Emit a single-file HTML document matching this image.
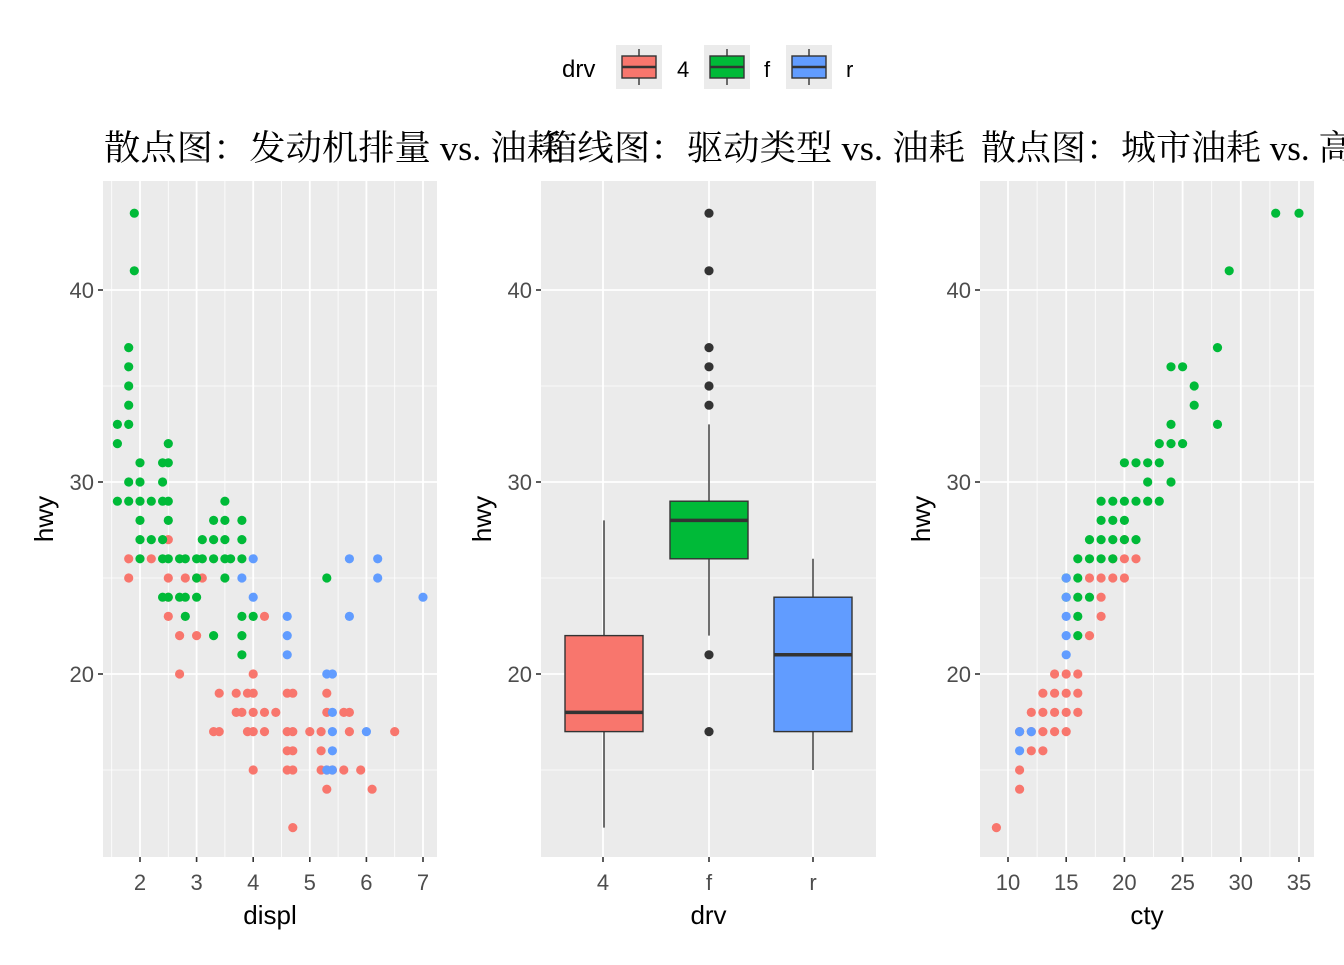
<!DOCTYPE html>
<html><head><meta charset="utf-8"><style>
body{margin:0;background:#fff}
svg text{font-family:"Liberation Sans","Noto Sans CJK SC",sans-serif}
svg text.t{font-family:"Liberation Serif","Noto Serif CJK SC",serif}
</style></head><body>
<svg id="s" width="1344" height="960" xmlns="http://www.w3.org/2000/svg">
<rect width="1344" height="960" fill="#fff"/>
<text x="562" y="77" font-size="24">drv</text>
<rect x="616" y="45" width="46" height="44" fill="#EBEBEB"/>
<line x1="639" y1="49" x2="639" y2="85" stroke="#333" stroke-width="1.4"/>
<rect x="622" y="56" width="34" height="22" fill="#F8766D" stroke="#333" stroke-width="1.4"/>
<line x1="622" y1="67" x2="656" y2="67" stroke="#333" stroke-width="2.5"/>
<text x="677" y="77" font-size="22">4</text>
<rect x="704" y="45" width="46" height="44" fill="#EBEBEB"/>
<line x1="727" y1="49" x2="727" y2="85" stroke="#333" stroke-width="1.4"/>
<rect x="710" y="56" width="34" height="22" fill="#00BA38" stroke="#333" stroke-width="1.4"/>
<line x1="710" y1="67" x2="744" y2="67" stroke="#333" stroke-width="2.5"/>
<text x="764" y="77" font-size="22">f</text>
<rect x="786" y="45" width="46" height="44" fill="#EBEBEB"/>
<line x1="809" y1="49" x2="809" y2="85" stroke="#333" stroke-width="1.4"/>
<rect x="792" y="56" width="34" height="22" fill="#619CFF" stroke="#333" stroke-width="1.4"/>
<line x1="792" y1="67" x2="826" y2="67" stroke="#333" stroke-width="2.5"/>
<text x="846" y="77" font-size="22">r</text>
<g id="g"></g>
<text class="t" x="104" y="160" font-size="35" textLength="459" lengthAdjust="spacingAndGlyphs">散点图：发动机排量 vs. 油耗</text>
<text class="t" x="541" y="160" font-size="35" textLength="424" lengthAdjust="spacingAndGlyphs">箱线图：驱动类型 vs. 油耗</text>
<text class="t" x="981" y="160" font-size="35">散点图：城市油耗 vs. 高速油耗</text>
</svg>
<script>
const g=document.getElementById('g');let h='';
const Y=v=>674-(v-20)*19.2;
const C={r4:'#F8766D',f:'#00BA38',r:'#619CFF'};
function panel(x0,x1,xmaj,xmin,xlab,ticks){
 h+=`<rect x="${x0}" y="181" width="${x1-x0}" height="676" fill="#EBEBEB"/>`;
 [15,25,35].forEach(v=>h+=`<line x1="${x0}" x2="${x1}" y1="${Y(v)}" y2="${Y(v)}" stroke="#fff" stroke-width="0.8"/>`);
 xmin.forEach(x=>h+=`<line x1="${x}" x2="${x}" y1="181" y2="857" stroke="#fff" stroke-width="0.8"/>`);
 [20,30,40].forEach(v=>{h+=`<line x1="${x0}" x2="${x1}" y1="${Y(v)}" y2="${Y(v)}" stroke="#fff" stroke-width="1.8"/>`;
  h+=`<line x1="${x0-5}" x2="${x0}" y1="${Y(v)}" y2="${Y(v)}" stroke="#333" stroke-width="1.6"/>`;
  h+=`<text x="${x0-9}" y="${Y(v)+8}" font-size="22" fill="#4D4D4D" text-anchor="end">${v}</text>`;});
 xmaj.forEach((x,i)=>{h+=`<line x1="${x}" x2="${x}" y1="181" y2="857" stroke="#fff" stroke-width="1.8"/>`;
  h+=`<line x1="${x}" x2="${x}" y1="857" y2="862" stroke="#333" stroke-width="1.6"/>`;
  h+=`<text x="${x}" y="890" font-size="22" fill="#4D4D4D" text-anchor="middle">${ticks[i]}</text>`;});
 h+=`<text x="${(x0+x1)/2}" y="924" font-size="26" text-anchor="middle">${xlab}</text>`;
 h+=`<text transform="translate(${x0-50},519) rotate(-90)" font-size="26" text-anchor="middle">hwy</text>`;
}
const X1=d=>140+(d-2)*56.6;
panel(103,437,[2,3,4,5,6,7].map(X1),[1.5,2.5,3.5,4.5,5.5,6.5].map(X1),'displ',[2,3,4,5,6,7]);
panel(541,876,[603,709,813],[],'drv',['4','f','r']);
const X3=c=>1008+(c-10)*11.64;
panel(980,1314,[10,15,20,25,30,35].map(X3),[12.5,17.5,22.5,27.5,32.5].map(X3),'cty',[10,15,20,25,30,35]);
function pts(s,col,X){s.trim().split(/\s+/).forEach(p=>{const[a,b]=p.split(',').map(Number);h+=`<circle cx="${X(a).toFixed(1)}" cy="${Y(b).toFixed(1)}" r="4.6" fill="${col}"/>`;});}
pts(`1.8,26 1.8,25 2.2,26 2.5,27 2.5,25 2.5,24 2.5,23 2.7,22 2.7,20 2.8,25 3.0,25 3.0,22 3.1,25 3.3,17 3.4,19 3.4,17 3.7,19 3.7,18 3.9,19 3.9,17 4.0,20 4.0,19 4.0,18 4.0,17 4.0,15 4.2,23 4.2,18 4.2,17 4.4,18 4.6,19 4.6,17 4.6,16 4.6,15 4.7,19 4.7,17 4.7,16 4.7,15 4.7,12 5.0,17 5.2,17 5.2,16 5.2,15 5.3,19 5.3,18 5.3,15 5.3,14 5.4,15 5.6,18 5.6,15 5.7,18 5.7,17 5.9,15 6.1,14 6.5,17 3.8,18`,C.r4,X1);
pts(`1.9,44 1.9,41 1.6,33 1.6,32 1.6,29 1.8,37 1.8,36 1.8,35 1.8,34 1.8,33 1.8,30 1.8,29 2.0,31 2.0,30 2.0,29 2.0,28 2.0,27 2.0,26 2.2,29 2.2,27 2.4,31 2.4,30 2.4,29 2.4,27 2.4,26 2.4,24 2.5,32 2.5,31 2.5,29 2.5,28 2.5,26 2.5,24 2.7,26 2.7,24 2.8,26 2.8,24 2.8,23 3.0,26 3.0,25 3.0,24 3.1,27 3.1,26 3.3,28 3.3,27 3.3,26 3.3,22 3.5,29 3.5,28 3.5,27 3.5,26 3.5,25 3.6,26 3.8,28 3.8,27 3.8,26 3.8,23 3.8,22 3.8,21 4.0,23 5.3,25`,C.f,X1);
pts(`3.8,25 4.0,26 4.0,24 4.6,23 4.6,22 4.6,21 5.3,20 5.4,20 5.4,17 5.4,18 5.4,16 5.4,15 5.3,15 5.7,26 5.7,23 6.0,17 6.2,26 6.2,25 7.0,24`,C.r,X1);
pts(`20,27 20,26 21,26 19,26 17,25 18,25 19,25 20,25 18,24 18,23 17,22 16,20 15,20 14,20 13,19 14,19 15,19 16,19 12,18 13,18 14,18 15,18 16,18 11,17 12,17 13,17 14,17 15,17 12,16 13,16 11,15 11,14 9,12`,C.r4,X3);
pts(`35,44 33,44 29,41 28,37 24,36 25,36 26,35 26,34 28,33 24,33 23,32 24,32 25,32 21,31 22,31 23,31 20,31 22,30 24,30 19,29 20,29 21,29 22,29 23,29 18,29 19,28 18,28 20,28 17,27 18,27 19,27 20,27 21,27 16,26 17,26 18,26 19,26 16,25 15,25 16,24 15,24 17,24 16,23 16,22`,C.f,X3);
pts(`15,25 15,24 15,23 15,22 15,21 11,17 12,17 11,16`,C.r,X3);
function box(cx,lo,q1,md,q3,hi,col,outs){
 h+=`<line x1="${cx}" x2="${cx}" y1="${Y(hi)}" y2="${Y(lo)}" stroke="#333" stroke-width="1.4"/>`;
 h+=`<rect x="${cx-39}" y="${Y(q3)}" width="78" height="${Y(q1)-Y(q3)}" fill="${col}" stroke="#333" stroke-width="1.4"/>`;
 h+=`<line x1="${cx-39}" x2="${cx+39}" y1="${Y(md)}" y2="${Y(md)}" stroke="#333" stroke-width="3.5"/>`;
 outs.forEach(o=>h+=`<circle cx="${cx}" cy="${Y(o)}" r="4.6" fill="#333"/>`);
}
box(604,12,17,18,22,28,C.r4,[]);
box(709,22,26,28,29,33,C.f,[44,41,37,36,35,34,21,17]);
box(813,15,17,21,24,26,C.r,[]);
g.innerHTML=h;
</script>
</body></html>
